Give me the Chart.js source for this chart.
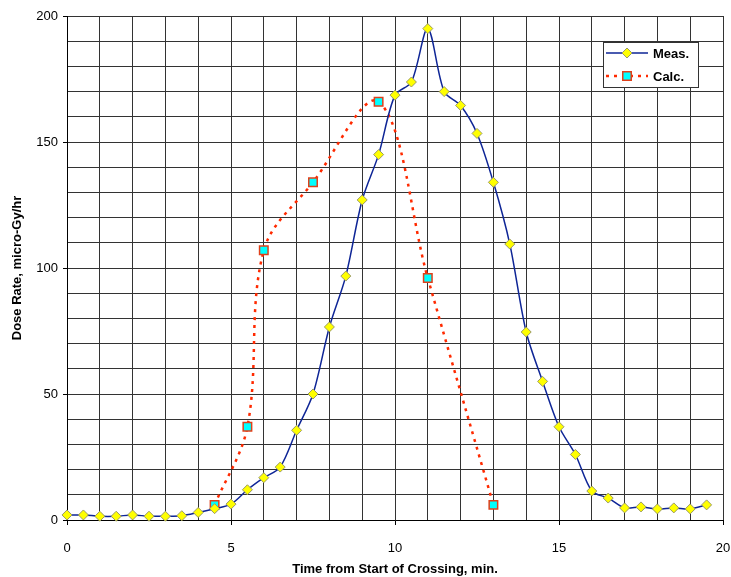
<!DOCTYPE html>
<html>
<head>
<meta charset="utf-8">
<script src="https://cdn.jsdelivr.net/npm/chart.js@4"></script>
<style>
  html, body { margin: 0; padding: 0; background: #fff; }
  #wrap { width: 731px; height: 577px; }
</style>
</head>
<body>
<div id="wrap"><canvas id="grafico" width="731" height="577"></canvas></div>
<script>
// datos
const measTime = [0, 0.5, 1, 1.5, 2, 2.5, 3, 3.5, 4, 4.5, 5, 5.5, 6, 6.5, 7, 7.5, 8, 8.5, 9, 9.5,
  10, 10.5, 11, 11.5, 12, 12.5, 13, 13.5, 14, 14.5, 15, 15.5, 16, 16.5, 17, 17.5, 18, 18.5, 19, 19.5];
const measDose = [2, 2, 1.5, 1.5, 2, 1.5, 1.5, 1.7, 3, 4.5, 6.3, 12, 16.8, 21, 35.6, 50, 76.6, 96.8, 127, 145,
  168.6, 173.8, 195, 170, 164.5, 153.4, 134, 109.5, 74.6, 55, 37, 26, 11.5, 8.7, 4.8, 5.2, 4.4, 4.8, 4.4, 6];
const calcTime = [4.5, 5.5, 6, 7.5, 9.5, 11, 13];
const calcDose = [6, 37, 107, 134, 166, 96, 6];

const etiquetas = ['Meas.', 'Calc.'];

// Leyenda dentro del area del grafico
const leyendaInterna = {
  id: 'leyendaInterna',
  afterDraw(chart) {
    const ctx = chart.ctx;
    const x0 = 603, y0 = 42, w = 95, h = 45;
    ctx.save();
    ctx.fillStyle = '#fff';
    ctx.fillRect(x0, y0, w, h);
    ctx.strokeStyle = '#333';
    ctx.lineWidth = 1;
    ctx.strokeRect(x0 + 0.5, y0 + 0.5, w, h);

    chart.data.datasets.forEach((ds, i) => {
      const yy = y0 + 11 + i * 23;
      ctx.beginPath();
      ctx.strokeStyle = ds.borderColor;
      ctx.lineWidth = ds.borderWidth;
      ctx.setLineDash(ds.borderDash || []);
      ctx.moveTo(x0 + 3, yy);
      ctx.lineTo(x0 + 45, yy);
      ctx.stroke();
      ctx.setLineDash([]);
      ctx.fillStyle = ds.pointBackgroundColor;
      ctx.strokeStyle = ds.pointBorderColor;
      ctx.lineWidth = ds.pointBorderWidth;
      Chart.helpers.drawPoint(ctx, {
        pointStyle: ds.pointStyle,
        radius: ds.pointRadius,
        borderWidth: ds.pointBorderWidth
      }, x0 + 24, yy);
      ctx.fillStyle = '#000';
      ctx.font = 'bold 13px "Liberation Sans", Arial, sans-serif';
      ctx.textBaseline = 'middle';
      ctx.textAlign = 'left';
      ctx.fillText(etiquetas[i], x0 + 50, yy + 1);
    });
    ctx.restore();
  }
};

const ctx = document.getElementById('grafico').getContext('2d');

new Chart(ctx, {
  type: 'line',
  data: {
    datasets: [{
      label: etiquetas[0],
      data: measTime.map((t, i) => ({ x: t, y: measDose[i] })),
      borderColor: '#0E2596',
      borderWidth: 1.5,
      tension: 0.3,
      pointStyle: 'rectRot',
      pointRadius: 5,
      pointBackgroundColor: '#FFFF00',
      pointBorderColor: '#999966',
      pointBorderWidth: 1,
      clip: false
    }, {
      label: etiquetas[1],
      data: calcTime.map((t, i) => ({ x: t, y: calcDose[i] })),
      borderColor: '#FF2A00',
      borderWidth: 2.5,
      borderDash: [3, 5],
      tension: 0.35,
      pointStyle: 'rect',
      pointRadius: 6,
      pointBackgroundColor: '#00FFFF',
      pointBorderColor: '#E0401A',
      pointBorderWidth: 1.5,
      clip: false
    }]
  },
  options: {
    responsive: false,
    animation: false,
    layout: { padding: { top: 16, right: 8, left: 0, bottom: 0 } },
    plugins: {
      legend: { display: false },
      tooltip: { enabled: false }
    },
    scales: {
      x: {
        type: 'linear',
        min: 0,
        max: 20,
        afterFit: s => { s.height = 57; s.paddingLeft = 0; s.paddingRight = 0; },
        ticks: {
          stepSize: 1,
          autoSkip: false,
          maxRotation: 0,
          padding: 16,
          color: '#000',
          font: { family: '"Liberation Sans", Arial, sans-serif', size: 13 },
          callback: v => (v % 5 === 0 ? String(v) : '')
        },
        grid: {
          color: '#333',
          lineWidth: 1,
          tickLength: 5,
          tickColor: c => (c.tick && c.tick.value % 5 === 0 ? '#000' : 'rgba(0,0,0,0)')
        },
        border: { color: '#000', width: 1 },
        title: {
          display: true,
          text: 'Time from Start of Crossing, min.',
          color: '#000',
          font: { family: '"Liberation Sans", Arial, sans-serif', size: 13, weight: 'bold' },
          padding: { top: 0, bottom: 0 }
        }
      },
      y: {
        min: 0,
        max: 200,
        afterFit: s => { s.width = 67; s.paddingTop = 0; s.paddingBottom = 0; },
        ticks: {
          stepSize: 10,
          autoSkip: false,
          padding: 5,
          color: '#000',
          font: { family: '"Liberation Sans", Arial, sans-serif', size: 13 },
          callback: v => (v % 50 === 0 ? String(v) : '')
        },
        grid: {
          color: '#333',
          lineWidth: 1,
          tickLength: 4,
          tickColor: c => (c.tick && c.tick.value % 50 === 0 ? '#000' : 'rgba(0,0,0,0)')
        },
        border: { color: '#000', width: 1 },
        title: {
          display: true,
          text: 'Dose Rate, micro-Gy/hr',
          color: '#000',
          font: { family: '"Liberation Sans", Arial, sans-serif', size: 13, weight: 'bold' },
          padding: { top: 10, bottom: 0 }
        }
      }
    }
  },
  plugins: [leyendaInterna]
});
</script>
</body>
</html>
